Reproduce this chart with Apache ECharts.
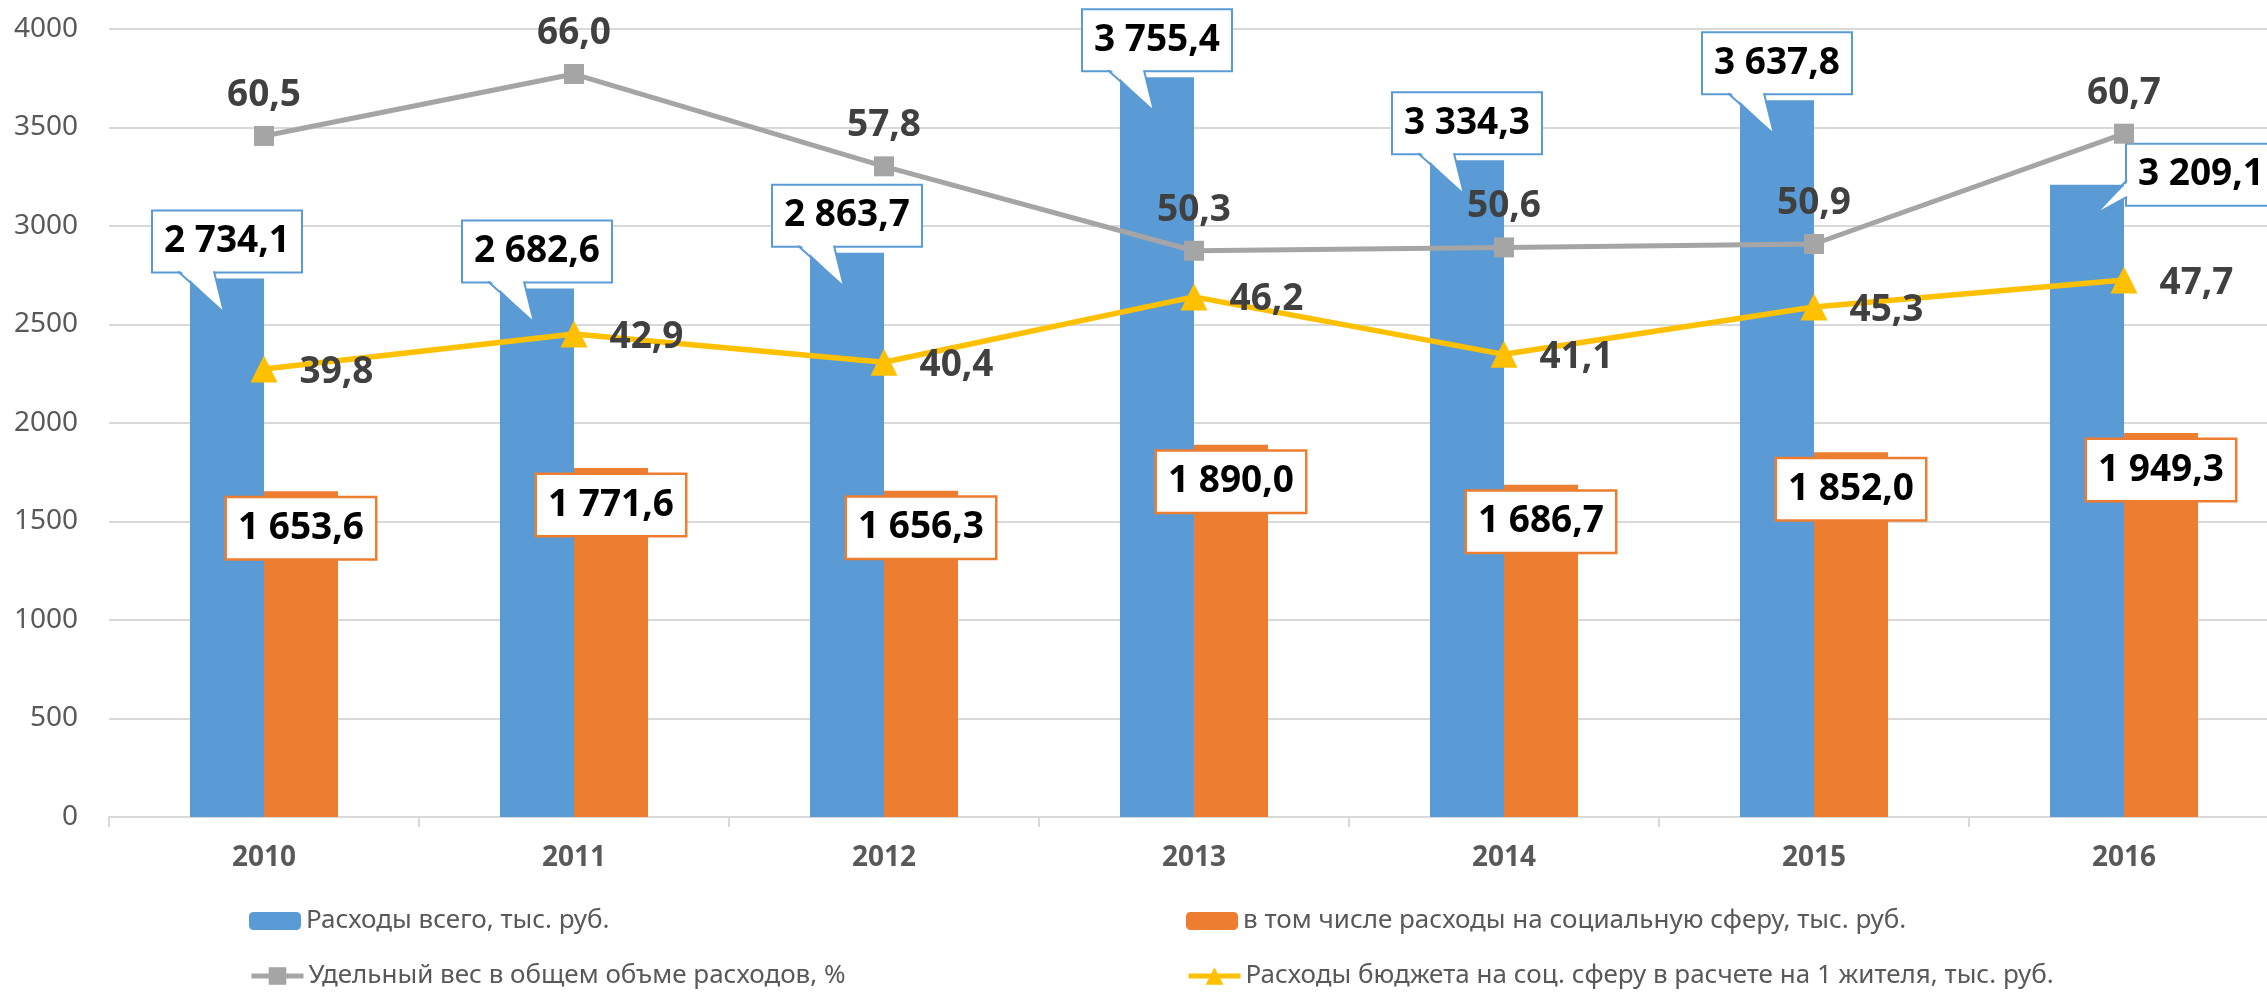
<!DOCTYPE html>
<html>
<head>
<meta charset="utf-8">
<script src="https://cdn.jsdelivr.net/npm/echarts@6/dist/echarts.min.js"></script>
<style>
  html, body { margin: 0; padding: 0; background: #fff; overflow: hidden; }
  #chart { width: 2279px; height: 992px; }
</style>
</head>
<body>
<div id="chart"></div>
<script>
// ---- data ----
const categories = ['2010', '2011', '2012', '2013', '2014', '2015', '2016'];
const totalExp = [2734.1, 2682.6, 2863.7, 3755.4, 3334.3, 3637.8, 3209.1];
const socialExp = [1653.6, 1771.6, 1656.3, 1890.0, 1686.7, 1852.0, 1949.3];
const sharePct = [60.5, 66.0, 57.8, 50.3, 50.6, 50.9, 60.7];
const perCapita = [39.8, 42.9, 40.4, 46.2, 41.1, 45.3, 47.7];
const yTicks = { min: 0, max: 4000, interval: 500 };
const names = [
  'Расходы всего, тыс. руб.',
  'в том числе расходы на социальную сферу, тыс. руб.',
  'Удельный вес в общем объме расходов, %',
  'Расходы бюджета на соц. сферу в расчете на 1 жителя, тыс. руб.'
];

// ---- styling ----
const FONT = 'Noto Sans';
const BLUE = '#5B9BD5', ORANGE = '#ED7D31', GRAY = '#A5A5A5', YELLOW = '#FFC000';
const BAR_W = 74;
const last = categories.length - 1;

function fmt(v) {
  const parts = Number(v).toFixed(1).split('.');
  return parts[0].replace(/\B(?=(\d{3})+(?!\d))/g, ' ') + ',' + parts[1];
}

const boxLabel = (color) => ({
  show: true,
  formatter: (p) => fmt(p.value),
  fontFamily: FONT,
  fontWeight: 'bold',
  fontSize: 37,
  lineHeight: 40,
  color: '#000',
  backgroundColor: '#fff',
  borderColor: color,
  borderWidth: 2,
  padding: [10, 11]
});

const legendItem = (name, left, top, isLine) => ({
  data: [name],
  orient: 'horizontal',
  left: left, top: top,
  padding: 0,
  itemWidth: 52, itemHeight: isLine ? 22 : 18,
  lineStyle: isLine ? { width: 5 } : undefined,
  textStyle: { fontFamily: FONT, fontSize: 26, color: '#595959', lineHeight: 30 }
});

const chart = echarts.init(document.getElementById('chart'), null, { renderer: 'canvas' });

const option = {
  backgroundColor: '#fff',
  animation: false,
  grid: { left: 109, top: 29, right: 0, height: 788, containLabel: false },
  legend: [
    legendItem(names[0], 249, 906, false),
    legendItem(names[2], 249, 961, true),
    legendItem(names[1], 1186, 906, false),
    legendItem(names[3], 1186, 961, true)
  ],
  xAxis: {
    type: 'category',
    data: categories,
    boundaryGap: true,
    axisLine: { lineStyle: { color: '#D9D9D9', width: 2 } },
    axisTick: { show: true, length: 10, lineStyle: { color: '#D9D9D9', width: 2 } },
    axisLabel: { fontFamily: FONT, fontSize: 28, fontWeight: 'bold', color: '#595959', margin: 27 },
    splitLine: { show: false }
  },
  yAxis: [
    {
      type: 'value',
      min: yTicks.min, max: yTicks.max, interval: yTicks.interval,
      axisLine: { show: false },
      axisTick: { show: false },
      axisLabel: { fontFamily: FONT, fontSize: 28, color: '#595959', margin: 31, formatter: (v) => String(v) },
      splitLine: { lineStyle: { color: '#D9D9D9', width: 2 } }
    },
    {
      type: 'value',
      min: 0, max: 70,
      show: false,
      splitLine: { show: false }
    }
  ],
  series: [
    {
      name: names[0],
      type: 'bar',
      barWidth: BAR_W,
      barGap: '0%',
      itemStyle: { color: BLUE },
      z: 2,
      label: Object.assign(boxLabel(BLUE), { position: 'top', distance: 7 }),
      data: totalExp.map((v, i) => i === last ? { value: v, label: { position: [77, -40] } } : v)
    },
    {
      name: names[1],
      type: 'bar',
      barWidth: BAR_W,
      barGap: '0%',
      itemStyle: { color: ORANGE },
      z: 2,
      label: Object.assign(boxLabel(ORANGE), { position: 'insideTop', distance: 7, borderWidth: 2.5 }),
      data: socialExp
    },
    {
      name: names[2],
      type: 'line',
      yAxisIndex: 1,
      z: 3,
      symbol: 'rect',
      symbolSize: 20,
      lineStyle: { color: GRAY, width: 5 },
      itemStyle: { color: GRAY },
      label: {
        show: true, position: 'top', distance: 12,
        formatter: (p) => fmt(p.value),
        fontFamily: FONT, fontWeight: 'bold', fontSize: 37, color: '#404040'
      },
      data: sharePct
    },
    {
      name: names[3],
      type: 'line',
      yAxisIndex: 1,
      z: 3,
      symbol: 'triangle',
      symbolSize: 27,
      lineStyle: { color: YELLOW, width: 5.5 },
      itemStyle: { color: YELLOW },
      label: {
        show: true, position: 'right', distance: 22, offset: [0, 3],
        formatter: (p) => fmt(p.value),
        fontFamily: FONT, fontWeight: 'bold', fontSize: 37, color: '#404040'
      },
      data: perCapita
    },
    {
      name: 'callout-pointers',
      type: 'custom',
      z: 5,
      silent: true,
      encode: { x: 0, y: 1 },
      data: totalExp.map((v, i) => [i, v]),
      renderItem: function (params, api) {
        const pt = api.coord([api.value(0), api.value(1)]);
        const cx = pt[0] - BAR_W / 2;
        const top = pt[1];
        let a, b, tip, fillPts;
        if (params.dataIndex === last) {
          a = [cx + 40, top - 5];
          b = [cx + 40, top + 12];
          tip = [cx + 9, top + 29];
          fillPts = [[cx + 42, top - 4], [cx + 42, top + 11], tip];
        } else {
          a = [cx - 49, top - 7];
          b = [cx - 13, top - 7];
          tip = [cx - 3, top + 34];
          fillPts = [[cx - 48, top - 9], [cx - 14, top - 9], tip];
        }
        return {
          type: 'group',
          children: [
            { type: 'polygon', shape: { points: fillPts }, style: { fill: '#fff', stroke: null } },
            { type: 'polyline', shape: { points: [a, tip, b] }, style: { fill: null, stroke: BLUE, lineWidth: 2 } }
          ]
        };
      }
    }
  ]
};

chart.setOption(option);
</script>
</body>
</html>
